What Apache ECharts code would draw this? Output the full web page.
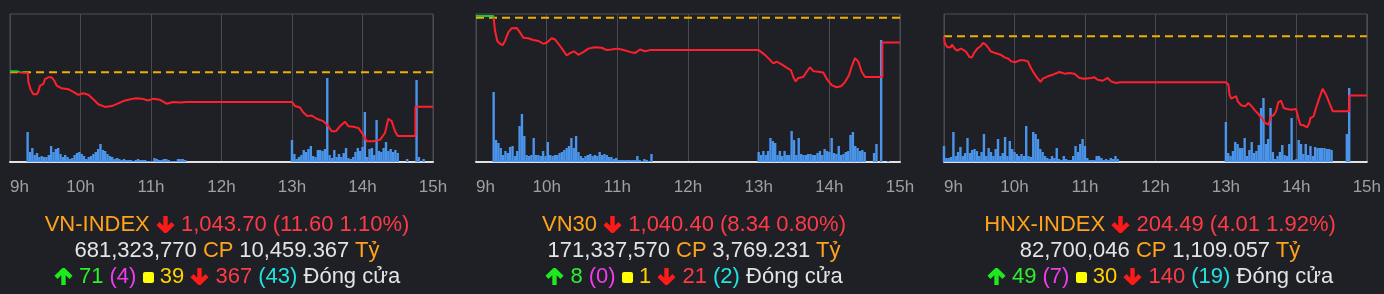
<!DOCTYPE html>
<html>
<head>
<meta charset="utf-8">
<script src="https://cdn.jsdelivr.net/npm/echarts@6/dist/echarts.min.js"></script>
<style>
  html, body { margin:0; padding:0; background:#1f2025; }
  #wrap { position:relative; width:1384px; height:294px; overflow:hidden; background:#1f2025; }
  #chart { position:absolute; left:0; top:0; width:1384px; height:294px; }
  .info { position:absolute; top:211px; width:480px; text-align:center;
          font-family:"Liberation Sans", Arial, Helvetica, sans-serif; font-size:22px; line-height:26px; white-space:nowrap; }
  .o { color:#ffa31a; } .r { color:#ff3a47; } .w { color:#e4e4e4; }
  .g { color:#2bf02b; } .m { color:#f03cf0; } .y { color:#ffd200; } .c { color:#20e4e4; }
  .sq { display:inline-block; width:11px; height:11px; border-radius:2px; background:#ffff00; }
  svg.ar { vertical-align:-2px; }
</style>
</head>
<body>
<div id="wrap">
  <div id="chart"></div>
</div>
<script>
// ---------------- DATA ----------------
const panelNames = ['VN-INDEX', 'VN30', 'HNX-INDEX'];
const refPrices = [1055.30, 1048.74, 208.50];
const priceMin = [1025, 1000, 200];
const priceMax = [1075, 1050, 210];
const hourTicks = [9, 10, 11, 12, 13, 14, 15];

// price lines: [hour, index value]
const vnIndexLine = [[9.00,1055.7],[9.10,1055.7],[9.15,1055.2],[9.25,1055.2],[9.262,1051.9],[9.291,1049.6],[9.33,1047.9],[9.379,1047.9],[9.401,1048.7],[9.426,1050.8],[9.472,1051.3],[9.496,1053.0],[9.543,1053.6],[9.591,1053.6],[9.628,1052.5],[9.662,1050.8],[9.733,1049.9],[9.827,1049.6],[9.898,1048.7],[9.969,1047.7],[10.04,1048.2],[10.111,1047.7],[10.182,1046.2],[10.252,1044.5],[10.348,1043.6],[10.443,1043.9],[10.536,1044.8],[10.631,1045.8],[10.773,1046.5],[10.868,1046.4],[10.962,1045.8],[11.033,1046.4],[11.128,1046.0],[11.223,1044.7],[11.316,1045.3],[11.411,1045.1],[11.5,1045.3],[13.0,1045.3],[13.043,1043.9],[13.113,1043.4],[13.16,1041.7],[13.217,1040.5],[13.279,1040.7],[13.35,1039.6],[13.444,1038.8],[13.492,1037.7],[13.563,1035.4],[13.624,1035.4],[13.681,1037.1],[13.752,1038.6],[13.799,1037.1],[13.87,1036.9],[13.94,1036.5],[14.011,1034.2],[14.06,1032.0],[14.153,1032.0],[14.248,1032.5],[14.319,1034.8],[14.366,1039.6],[14.414,1038.8],[14.461,1035.4],[14.5,1033.8],[14.75,1033.8],[14.75,1043.7],[15.0,1043.7]];
const vn30Line = [[9.0,1049.3],[9.245,1049.3],[9.25,1048.4],[9.269,1044.4],[9.301,1040.9],[9.34,1039.95],[9.378,1039.5],[9.41,1040.9],[9.457,1043.8],[9.505,1045.2],[9.576,1045.3],[9.622,1043.8],[9.669,1042.0],[9.74,1041.8],[9.811,1041.2],[9.882,1040.9],[9.952,1039.95],[10.0,1040.3],[10.071,1041.8],[10.118,1041.4],[10.165,1039.95],[10.227,1037.97],[10.283,1036.0],[10.33,1036.8],[10.387,1037.4],[10.448,1036.2],[10.518,1037.1],[10.589,1038.3],[10.684,1038.8],[10.779,1038.6],[10.849,1037.8],[10.92,1038.0],[10.991,1038.3],[11.062,1038.0],[11.179,1037.2],[11.25,1036.8],[11.321,1038.0],[11.391,1037.4],[11.462,1037.8],[11.5,1037.8],[13.0,1037.8],[13.019,1037.4],[13.089,1036.2],[13.16,1034.5],[13.207,1033.3],[13.255,1033.9],[13.326,1033.0],[13.396,1031.9],[13.457,1031.0],[13.49,1028.7],[13.524,1027.2],[13.561,1028.4],[13.631,1028.7],[13.68,1030.5],[13.726,1032.0],[13.773,1030.7],[13.844,1030.5],[13.914,1030.2],[13.963,1028.1],[14.033,1026.0],[14.104,1025.25],[14.165,1025.6],[14.222,1027.0],[14.278,1029.3],[14.316,1032.2],[14.363,1035.1],[14.41,1033.9],[14.458,1030.5],[14.505,1028.7],[14.75,1028.7],[14.75,1040.4],[15.0,1040.4]];
const hnxLine = [[9.0,208.5],[9.01,208.04],[9.047,207.75],[9.095,207.75],[9.113,207.93],[9.152,207.66],[9.188,207.52],[9.237,207.66],[9.269,207.59],[9.316,207.43],[9.364,207.07],[9.397,207.07],[9.425,207.36],[9.472,207.66],[9.52,207.82],[9.552,208.04],[9.585,207.97],[9.623,207.75],[9.661,207.48],[9.727,207.36],[9.803,207.25],[9.86,207.07],[9.916,206.98],[9.953,206.80],[10.01,206.74],[10.072,206.87],[10.133,206.87],[10.19,206.80],[10.228,206.40],[10.275,206.01],[10.322,205.68],[10.37,205.41],[10.402,205.63],[10.473,205.79],[10.544,205.90],[10.639,206.08],[10.71,205.97],[10.78,206.01],[10.851,205.97],[10.922,205.68],[10.993,205.63],[11.086,205.68],[11.135,205.72],[11.181,205.56],[11.252,205.49],[11.323,205.68],[11.37,205.45],[11.44,205.34],[11.5,205.39],[13.0,205.39],[13.037,205.22],[13.051,204.55],[13.075,204.28],[13.112,204.37],[13.146,204.44],[13.169,204.10],[13.217,203.83],[13.273,203.76],[13.32,203.99],[13.367,203.76],[13.415,203.47],[13.462,203.24],[13.509,202.97],[13.557,202.64],[13.603,202.52],[13.642,203.09],[13.678,203.16],[13.712,203.43],[13.745,204.05],[13.783,204.14],[13.82,203.65],[13.868,203.58],[13.925,203.53],[13.996,203.58],[14.028,202.97],[14.057,202.52],[14.103,202.48],[14.152,202.34],[14.184,202.64],[14.198,202.97],[14.245,203.09],[14.279,203.65],[14.326,204.32],[14.373,204.95],[14.421,204.55],[14.468,203.99],[14.515,203.43],[14.75,203.43],[14.75,204.49],[15.0,204.49]];

// volume (relative units), 2-minute bars
const vnIndexMorningStart = '9:15';
const vnIndexMorningVol = [30,10,14,7,9,5,6,5,5,7,16,10,13,14,8,5,7,5,3,4,7,9,10,8,6,3,5,6,8,10,13,18,12,11,8,6,5,3,4,3,2,3,2,2,2,1,2,3,2,2,2,1,1,1,4,3,2,2,3,3,2,1,1,1,3,3,3,2];
const vnIndexAfternoonVol = [22,8,3,5,7,12,10,13,16,6,5,12,12,11,13,84,7,4,12,5,8,5,9,14,4,3,5,10,14,11,15,50,5,13,14,7,42,11,10,14,20,11,13,10,12,9];
const vnIndexLateVol = [['14:38',3],['14:46',82],['14:48',5],['14:52',3]];

const vn30MorningStart = '9:15';
const vn30MorningVol = [70,22,19,14,7,11,9,15,16,6,11,36,48,26,7,6,7,24,7,7,6,11,6,20,7,6,7,7,9,10,12,14,16,24,14,26,10,6,4,6,7,8,6,7,6,10,7,8,7,5,5,3,4,2,2,2,2,2,2,2,2,6,2,1,3,2,1,8];
const vn30AfternoonVol = [10,7,11,7,11,24,21,19,7,11,6,11,7,7,31,22,7,24,8,7,7,8,8,7,7,9,11,7,13,11,10,24,9,8,16,7,8,10,11,27,30,16,14,11,12,10];
const vn30LateVol = [['14:38',9],['14:40',18],['14:44',122],['14:50',1]];

const hnxMorningStart = '9:00';
const hnxMorningVol = [16,4,4,5,30,6,10,15,6,9,24,9,12,13,11,6,10,28,6,14,10,6,13,23,6,9,25,6,21,13,10,8,6,8,6,36,6,5,30,28,23,13,10,6,4,3,6,4,14,3,2,6,3,2,2,6,16,10,18,23,16,4,2,2,2,6,6,4,2,3,2,4,3,6,3];
const hnxAfternoonVol = [40,9,6,11,20,18,14,14,24,6,12,20,9,11,17,54,64,18,23,54,10,3,6,10,17,7,6,18,44,2,3,22,18,8,18,7,16,6,15,14,14,14,14,13,13,12];
const hnxLateVol = [['14:43',28],['14:45',74]];

const afternoonStart = '13:00';
const volMax = 148;

// text block data
const closeText = ['1,043.70 (11.60 1.10%)', '1,040.40 (8.34 0.80%)', '204.49 (4.01 1.92%)'];
const sharesText = ['681,323,770', '171,337,570', '82,700,046'];
const valueText = ['10,459.367', '3,769.231', '1,109.057'];
const upCount = ['71', '8', '49'];
const ceilCount = ['(4)', '(0)', '(7)'];
const flatCount = ['39', '1', '30'];
const downCount = ['367', '21', '140'];
const floorCount = ['(43)', '(2)', '(19)'];
const statusText = 'Đóng cửa';

// ---------------- BUILD ----------------
function toH(s){ const p = s.split(':'); return +p[0] + (+p[1])/60; }
function barSeq(start, vals){ const h0 = toH(start); return vals.map((v,i)=>[h0 + i*2/60, v]); }
const lines = [vnIndexLine, vn30Line, hnxLine];
const vols = [
  barSeq(vnIndexMorningStart, vnIndexMorningVol).concat(barSeq(afternoonStart, vnIndexAfternoonVol), vnIndexLateVol.map(d=>[toH(d[0]), d[1]])),
  barSeq(vn30MorningStart, vn30MorningVol).concat(barSeq(afternoonStart, vn30AfternoonVol), vn30LateVol.map(d=>[toH(d[0]), d[1]])),
  barSeq(hnxMorningStart, hnxMorningVol).concat(barSeq(afternoonStart, hnxAfternoonVol), hnxLateVol.map(d=>[toH(d[0]), d[1]]))
];

const GRID_TOP = 14, GRID_H = 148;
const gridLefts = [10, 476, 944];
const gridWidths = [423, 424, 424];
const GREEN = '#22c23a', RED = '#ff1f2d';
const grids = [], xAxes = [], yAxes = [], series = [];
for (let k = 0; k < 3; k++) {
  grids.push({ left: gridLefts[k], width: gridWidths[k], top: GRID_TOP, height: GRID_H, show: true,
    borderColor: '#4e4f55', borderWidth: 1, backgroundColor: 'transparent' });
  xAxes.push({ type: 'value', gridIndex: k, min: hourTicks[0], max: hourTicks[hourTicks.length-1], interval: 1,
    axisLine: { show: true, onZero: false, lineStyle: { color: '#e2e2e2', width: 2 } },
    axisTick: { show: false },
    splitLine: { show: true, lineStyle: { color: '#4a4b50', width: 1 } },
    axisLabel: { color: '#a0a0a0', fontSize: 17, fontFamily: 'Liberation Sans, Arial, sans-serif', margin: 17,
      formatter: v => v + 'h', alignMinLabel: 'left', alignMaxLabel: 'center', showMinLabel: true, showMaxLabel: true } });
  yAxes.push({ type: 'value', gridIndex: k, min: priceMin[k], max: priceMax[k], show: false, splitLine: { show: false } });
  yAxes.push({ type: 'value', gridIndex: k, min: 0, max: volMax, show: false, splitLine: { show: false } });
  series.push({ type: 'bar', xAxisIndex: k, yAxisIndex: 2*k+1, data: vols[k], barWidth: 2.4,
    itemStyle: { color: '#4a94ea' }, silent: true, animation: false, z: 2 });
  series.push({ type: 'line', xAxisIndex: k, yAxisIndex: 2*k, data: [[9, refPrices[k]], [15, refPrices[k]]],
    symbol: 'none', lineStyle: { color: '#f0b000', width: 2, type: [8, 5] }, silent: true, animation: false, z: 3 });
  // colour above/below reference: gradient in global pixel space, split at the reference price
  const f = (priceMax[k] - refPrices[k]) / (priceMax[k] - priceMin[k]);
  const grad = new echarts.graphic.LinearGradient(0, GRID_TOP, 0, GRID_TOP + GRID_H, [
    { offset: 0, color: GREEN }, { offset: f, color: GREEN }, { offset: f, color: RED }, { offset: 1, color: RED }], true);
  series.push({ type: 'line', xAxisIndex: k, yAxisIndex: 2*k, data: lines[k], symbol: 'none',
    lineStyle: { width: 2, color: grad }, silent: true, animation: false, z: 4 });
}

const chart = echarts.init(document.getElementById('chart'), null, { renderer: 'canvas' });
chart.setOption({ backgroundColor: '#1f2025', animation: false, grid: grids, xAxis: xAxes, yAxis: yAxes, series: series });

// text blocks
const arrowDown = c => `<svg class="ar" width="19" height="17" viewBox="0 0 19 17"><path d="M9.5 0 V14.5 M2 7.6 L9.5 15 L17 7.6" fill="none" stroke="${c}" stroke-width="4.4"/></svg>`;
const arrowUp = c => `<svg class="ar" width="19" height="17" viewBox="0 0 19 17"><path d="M9.5 17 V2.5 M2 9.4 L9.5 2 L17 9.4" fill="none" stroke="${c}" stroke-width="4.4"/></svg>`;
const centers = [227, 694, 1160];
const wrap = document.getElementById('wrap');
for (let k = 0; k < 3; k++) {
  const d = document.createElement('div');
  d.className = 'info';
  d.style.left = (centers[k] - 240) + 'px';
  d.innerHTML =
    `<div><span class="o">${panelNames[k]}</span> ${arrowDown('#ff1a1a')} <span class="r">${closeText[k]}</span></div>` +
    `<div><span class="w">${sharesText[k]}</span> <span class="o">CP</span> <span class="w">${valueText[k]}</span> <span class="o">Tỷ</span></div>` +
    `<div>${arrowUp('#1ee81e')} <span class="g">${upCount[k]}</span> <span class="m">${ceilCount[k]}</span> <span class="sq"></span> <span class="y">${flatCount[k]}</span> ${arrowDown('#ff1a1a')} <span class="r">${downCount[k]}</span> <span class="c">${floorCount[k]}</span> <span class="w">${statusText}</span></div>`;
  wrap.appendChild(d);
}
</script>
</body>
</html>
